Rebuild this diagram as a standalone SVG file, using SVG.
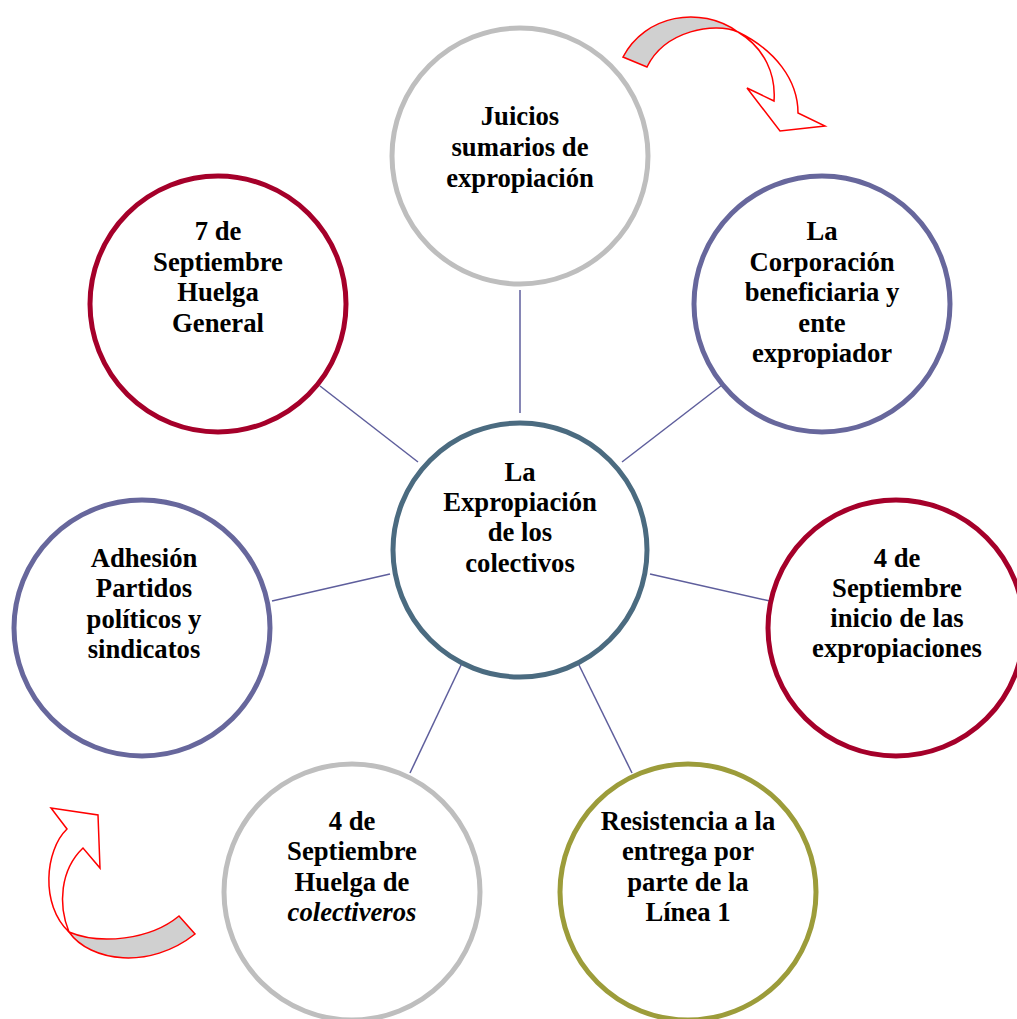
<svg xmlns="http://www.w3.org/2000/svg" width="1017" height="1019" viewBox="0 0 1017 1019">
<style>
.n{fill:#fff;stroke-width:5}
.t{font-family:"Liberation Serif","Times New Roman",serif;font-weight:bold;font-size:26.67px;text-anchor:middle;fill:#000}
.gray{stroke:#BEBEBE}
.purple{stroke:#67679C}
.red{stroke:#A5002A}
.olive{stroke:#9C9C3A}
.blue{stroke:#4B6B80}
.c line{stroke:#5E5E9C;stroke-width:1.5}
.arr{stroke:#FF0000;stroke-width:1.5;stroke-linejoin:miter}
</style>
<rect width="1017" height="1019" fill="#fff"/>
<g class="c" id="connectors">
<line x1="520" y1="290" x2="520" y2="413"/>
<line x1="622" y1="462" x2="722" y2="385"/>
<line x1="650" y1="574" x2="770" y2="601"/>
<line x1="578" y1="663" x2="632" y2="773"/>
<line x1="462" y1="663" x2="410" y2="773"/>
<line x1="390" y1="574" x2="272" y2="601"/>
<line x1="418" y1="462" x2="320" y2="386"/>
</g>
<g id="center">
<circle class="n blue" cx="520" cy="550" r="127"/>
<text class="t" x="520"><tspan x="520" y="481">La</tspan><tspan x="520" y="511">Expropiación</tspan><tspan x="520" y="541">de los</tspan><tspan x="520" y="572">colectivos</tspan></text>
</g>
<g id="top">
<circle class="n gray" cx="520" cy="156" r="128"/>
<text class="t"><tspan x="520" y="125">Juicios</tspan><tspan x="520" y="156">sumarios de</tspan><tspan x="520" y="187">expropiación</tspan></text>
</g>
<g id="topright">
<circle class="n purple" cx="822" cy="304" r="128"/>
<text class="t"><tspan x="822" y="240">La</tspan><tspan x="822" y="271">Corporación</tspan><tspan x="822" y="301">beneficiaria y</tspan><tspan x="822" y="332">ente</tspan><tspan x="822" y="362">expropiador</tspan></text>
</g>
<g id="right">
<circle class="n red" cx="896" cy="628" r="128"/>
<text class="t"><tspan x="897" y="567">4 de</tspan><tspan x="897" y="597">Septiembre</tspan><tspan x="897" y="627">inicio de las</tspan><tspan x="897" y="657">expropiaciones</tspan></text>
</g>
<g id="bottomright">
<circle class="n olive" cx="688" cy="892" r="128"/>
<text class="t"><tspan x="688" y="830">Resistencia a la</tspan><tspan x="688" y="860">entrega por</tspan><tspan x="688" y="891">parte de la</tspan><tspan x="688" y="921">Línea 1</tspan></text>
</g>
<g id="bottomleft">
<circle class="n gray" cx="352" cy="892" r="128"/>
<text class="t"><tspan x="352" y="830">4 de</tspan><tspan x="352" y="860">Septiembre</tspan><tspan x="352" y="891">Huelga de</tspan><tspan x="352" y="921" font-style="italic">colectiveros</tspan></text>
</g>
<g id="left">
<circle class="n purple" cx="142" cy="628" r="128"/>
<text class="t"><tspan x="144" y="567">Adhesión</tspan><tspan x="144" y="597">Partidos</tspan><tspan x="144" y="628">políticos y</tspan><tspan x="144" y="658">sindicatos</tspan></text>
</g>
<g id="topleft">
<circle class="n red" cx="218" cy="304" r="128"/>
<text class="t"><tspan x="218" y="240">7 de</tspan><tspan x="218" y="271">Septiembre</tspan><tspan x="218" y="301">Huelga</tspan><tspan x="218" y="332">General</tspan></text>
</g>
<g id="arrow-top">
<path class="arr" fill="#D0D0D0" d="M623,57 C645,15 700,5 738,32 C715,22 665,30 647,67 Z"/>
<path class="arr" fill="#fff" d="M738,32 C775,50 798,80 798,113 L825,126 L780,131 L747,88 L774,101 C776,75 765,48 738,32 Z"/>
</g>
<g id="arrow-bottom">
<path class="arr" fill="#D0D0D0" d="M69,932 C90,962 150,970 195,934 L179,916 C150,940 100,945 69,932 Z"/>
<path class="arr" fill="#fff" d="M69,932 C40,905 45,850 67,829 L51,808 L98,815 L100,868 L83,848 C60,870 58,905 69,932 Z"/>
</g>
</svg>
